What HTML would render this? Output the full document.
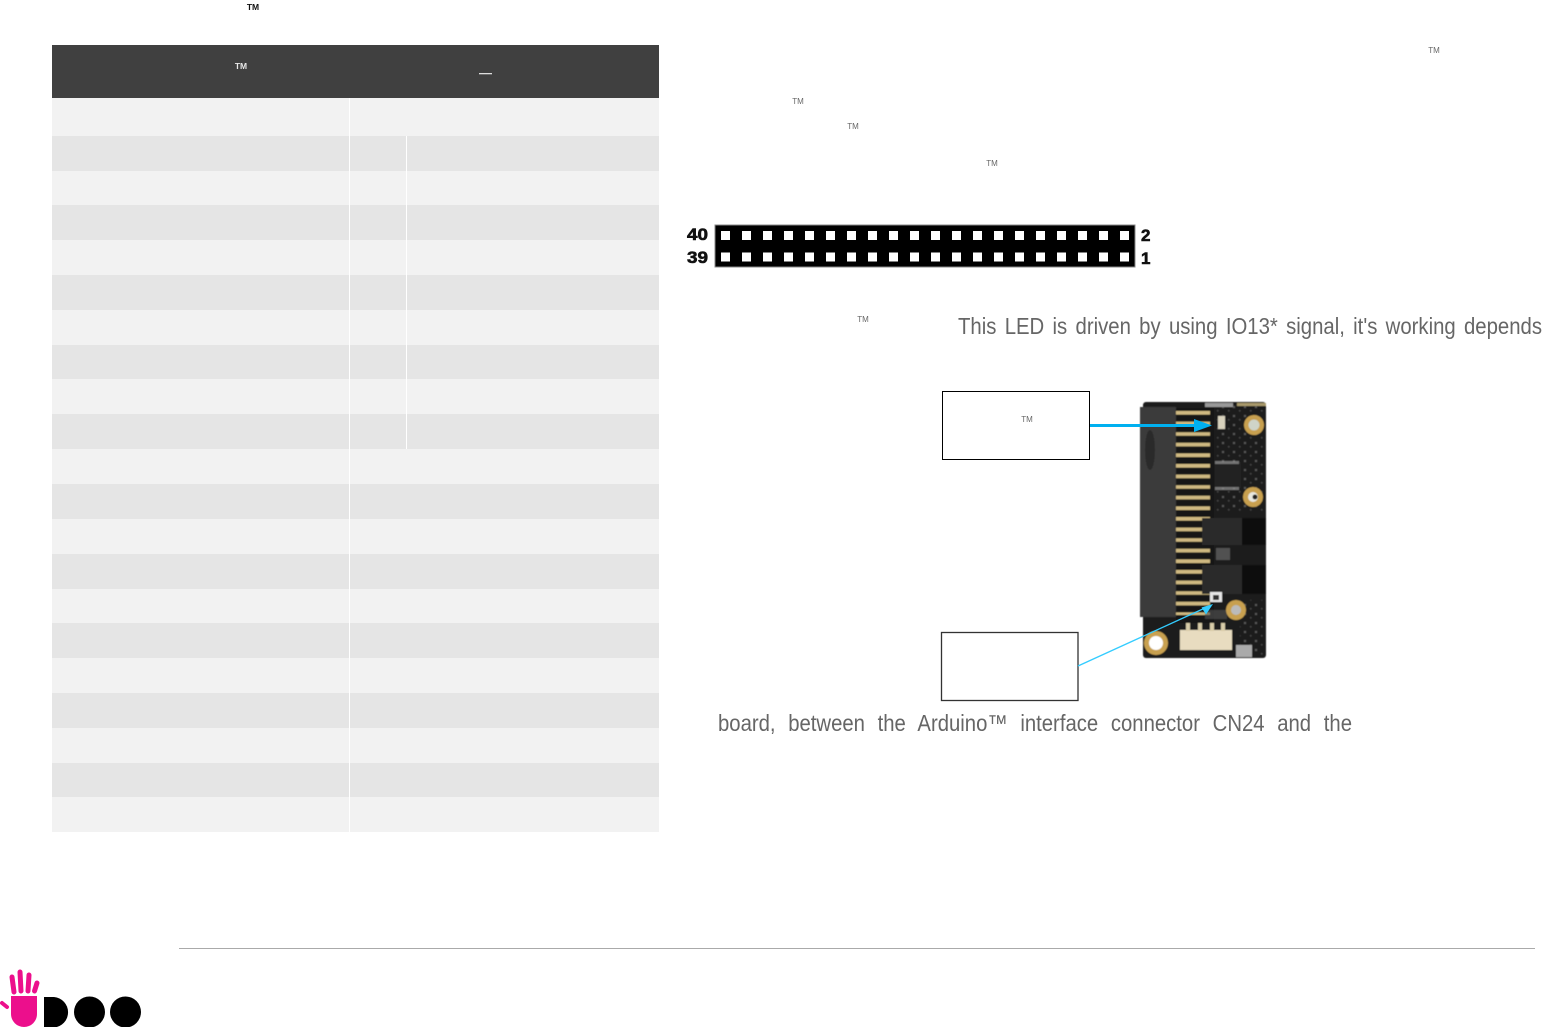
<!DOCTYPE html>
<html><head><meta charset="utf-8"><style>
html,body{margin:0;padding:0;background:#fff}
svg{display:block;font-family:"Liberation Sans",sans-serif}
</style></head><body>
<svg width="1557" height="1027" viewBox="0 0 1557 1027" xmlns="http://www.w3.org/2000/svg">
<defs>
<filter id="b" x="-5%" y="-5%" width="110%" height="110%"><feGaussianBlur stdDeviation="0.6"/></filter>
<pattern id="sp" width="11" height="9" patternUnits="userSpaceOnUse"><rect x="1" y="1" width="2" height="2" fill="#8a8a8a"/><rect x="7" y="5" width="1.5" height="1.5" fill="#666"/></pattern>
</defs>
<rect width="1557" height="1027" fill="#fff"/>

<!-- table -->
<rect x="52" y="45" width="607" height="53" fill="#404040"/>
<rect x="52" y="98" width="607" height="38" fill="#f2f2f2"/>
<rect x="52" y="136" width="607" height="35" fill="#e5e5e5"/>
<rect x="52" y="171" width="607" height="34" fill="#f2f2f2"/>
<rect x="52" y="205" width="607" height="35" fill="#e5e5e5"/>
<rect x="52" y="240" width="607" height="35" fill="#f2f2f2"/>
<rect x="52" y="275" width="607" height="35" fill="#e5e5e5"/>
<rect x="52" y="310" width="607" height="35" fill="#f2f2f2"/>
<rect x="52" y="345" width="607" height="34" fill="#e5e5e5"/>
<rect x="52" y="379" width="607" height="35" fill="#f2f2f2"/>
<rect x="52" y="414" width="607" height="35" fill="#e5e5e5"/>
<rect x="52" y="449" width="607" height="35" fill="#f2f2f2"/>
<rect x="52" y="484" width="607" height="35" fill="#e5e5e5"/>
<rect x="52" y="519" width="607" height="35" fill="#f2f2f2"/>
<rect x="52" y="554" width="607" height="35" fill="#e5e5e5"/>
<rect x="52" y="589" width="607" height="34" fill="#f2f2f2"/>
<rect x="52" y="623" width="607" height="35" fill="#e5e5e5"/>
<rect x="52" y="658" width="607" height="35" fill="#f2f2f2"/>
<rect x="52" y="693" width="607" height="35" fill="#e5e5e5"/>
<rect x="52" y="728" width="607" height="35" fill="#f2f2f2"/>
<rect x="52" y="763" width="607" height="34" fill="#e5e5e5"/>
<rect x="52" y="797" width="607" height="35" fill="#f2f2f2"/>
<rect x="349" y="98" width="1" height="734" fill="#fff"/>
<rect x="406" y="136" width="1" height="313" fill="#fff"/>

<!-- header marks -->
<text x="241" y="69" font-size="8.5" font-weight="bold" fill="#e8e8e8" text-anchor="middle">TM</text>
<rect x="479" y="73" width="13" height="1.3" fill="#ddd"/>
<text x="253" y="10" font-size="8.5" font-weight="bold" fill="#111" text-anchor="middle">TM</text>

<!-- pin header -->
<rect x="715" y="225" width="420" height="42" fill="#000"/>
<rect x="715" y="225" width="420" height="42" fill="none" stroke="#888" stroke-width="1"/>
<line x1="721" y1="235.5" x2="1130" y2="235.5" stroke="#fff" stroke-width="9" stroke-dasharray="9 12"/>
<line x1="721" y1="257" x2="1130" y2="257" stroke="#fff" stroke-width="9" stroke-dasharray="9 12"/>
<g font-size="17" font-weight="bold" fill="#111" stroke="#111" stroke-width=".6">
<text x="687" y="240" textLength="21" lengthAdjust="spacingAndGlyphs">40</text>
<text x="687" y="263" textLength="21" lengthAdjust="spacingAndGlyphs">39</text>
<text x="1141" y="241">2</text>
<text x="1141" y="264">1</text>
</g>

<!-- body text -->
<text x="958" y="334" font-size="23" fill="#666" word-spacing="3" textLength="584" lengthAdjust="spacingAndGlyphs">This LED is driven by using IO13* signal, it's working depends</text>
<text x="718" y="731" font-size="23" fill="#666" word-spacing="8" textLength="634" lengthAdjust="spacingAndGlyphs">board, between the Arduino™ interface connector CN24 and the</text>

<!-- board -->
<g filter="url(#b)">
<rect x="1143" y="402" width="123" height="256" rx="3" fill="#1a1a1a"/>
<rect x="1214" y="404" width="52" height="110" fill="url(#sp)" opacity=".55"/>
<rect x="1240" y="600" width="26" height="55" fill="url(#sp)" opacity=".55"/>
<rect x="1140" y="407" width="36" height="210" fill="#3a3a3a"/>
<ellipse cx="1150" cy="450" rx="5" ry="20" fill="#2c2c2c"/>
<rect x="1176" y="408" width="38" height="215" fill="#141414"/>
<line x1="1193" y1="411" x2="1193" y2="615" stroke="#cfb981" stroke-width="34" stroke-dasharray="3.6 7"/>
<rect x="1202" y="518" width="64" height="27" fill="#070707"/>
<rect x="1202" y="518" width="40" height="27" fill="#2a2a2a"/>
<rect x="1202" y="565" width="64" height="29" fill="#070707"/>
<rect x="1202" y="565" width="40" height="29" fill="#2a2a2a"/>
<rect x="1215" y="462" width="26" height="26" fill="#202020"/>
<rect x="1215" y="461" width="24" height="3" fill="#aaa" opacity=".6"/>
<rect x="1215" y="487" width="24" height="3" fill="#aaa" opacity=".6"/>
<rect x="1218" y="416" width="7" height="13" fill="#d8d2bd"/>
<rect x="1205" y="403" width="28" height="4" fill="#999"/>
<rect x="1237" y="403" width="29" height="3" fill="#a99a6c"/>
<rect x="1216" y="548" width="14" height="12" fill="#777" opacity=".6"/>
<rect x="1210" y="592" width="12" height="10" fill="#e6e6e6"/>
<rect x="1213" y="595" width="6" height="5" fill="#333"/>
<rect x="1205" y="610" width="22" height="9" fill="#555" opacity=".6"/>
<rect x="1180" y="630" width="52" height="20" fill="#e8dcc0"/>
<rect x="1186" y="623" width="4" height="8" fill="#d8cca8"/>
<rect x="1198" y="623" width="4" height="8" fill="#d8cca8"/>
<rect x="1210" y="623" width="4" height="8" fill="#d8cca8"/>
<rect x="1221" y="623" width="4" height="8" fill="#d8cca8"/>
<rect x="1236" y="645" width="16" height="12" fill="#aaa"/>
<circle cx="1254" cy="425" r="10" fill="#c8a050"/><circle cx="1254" cy="425" r="5.5" fill="#cfd4c8"/>
<circle cx="1253" cy="497" r="10" fill="#c8a050"/><circle cx="1253" cy="497" r="5" fill="#e8e8e0"/><circle cx="1255" cy="497" r="2.5" fill="#222"/>
<circle cx="1236" cy="610" r="10" fill="#c8a050"/><circle cx="1236" cy="610" r="5" fill="#bbb"/>
<circle cx="1156" cy="643" r="12" fill="#c8a050"/><circle cx="1156" cy="643" r="7" fill="#fff"/>
</g>

<!-- callouts -->
<rect x="942.5" y="391.5" width="147" height="68" fill="#fff" stroke="#000" stroke-width="1"/>
<rect x="941.5" y="632.5" width="136.5" height="68" fill="none" stroke="#333" stroke-width="1.3"/>
<line x1="1090" y1="425.5" x2="1196" y2="425.5" stroke="#00b0f0" stroke-width="3"/>
<polygon points="1194,419 1212,425.5 1194,432" fill="#00b0f0"/>
<line x1="1078" y1="666" x2="1205" y2="608" stroke="#33ccff" stroke-width="1.3"/>
<polygon points="1213,604 1201.5,607.5 1206,614.5" fill="#33ccff"/>

<!-- small TMs -->
<g font-size="8" fill="#666" text-anchor="middle">
<text x="1434" y="53">TM</text>
<text x="798" y="104">TM</text>
<text x="853" y="129">TM</text>
<text x="992" y="166">TM</text>
<text x="863" y="322">TM</text>
<text x="1027" y="422">TM</text>
</g>

<!-- footer -->
<rect x="179" y="948" width="1356" height="1" fill="#aaa"/>
<g stroke="#ec0f8c" stroke-linecap="round" fill="none">
<line x1="12" y1="977" x2="14" y2="992" stroke-width="5"/>
<line x1="20" y1="972" x2="21" y2="991" stroke-width="5"/>
<line x1="29" y1="975" x2="28" y2="991" stroke-width="5"/>
<line x1="37" y1="983" x2="34.5" y2="991" stroke-width="5"/>
<line x1="2" y1="1003" x2="7" y2="1007" stroke-width="4"/>
</g>
<path d="M11 996H37V1014A13 13 0 0 1 11 1014Z" fill="#ec0f8c"/>
<path d="M44 997H54A15.3 15.3 0 0 1 54 1027.5H44Z" fill="#000"/>
<circle cx="89.5" cy="1012" r="15.5" fill="#000"/>
<circle cx="125.5" cy="1012" r="15.5" fill="#000"/>
</svg>
</body></html>
